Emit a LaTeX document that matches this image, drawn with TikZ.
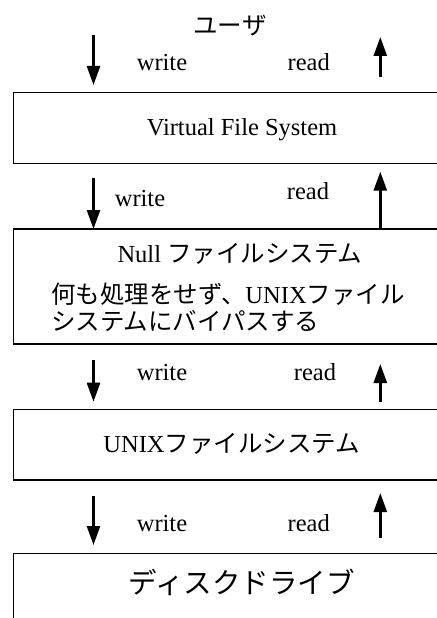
\documentclass[tikz,border=0pt]{standalone}
\usepackage{fontspec}
\setmainfont{Liberation Serif}
\newfontfamily\jp{Noto Sans CJK JP}
\usetikzlibrary{arrows.meta}

\begin{document}
\begin{tikzpicture}[x=1bp,y=-1bp,
  layer/.style={draw, line width=1.3bp, inner sep=0pt, outer sep=0pt, anchor=north west},
  flow/.style={line width=2.6bp, -{Triangle[length=19bp,width=13bp]}},
  lbl/.style={inner sep=0pt, anchor=base, font=\fontsize{24.5bp}{28bp}\selectfont},
]
\useasboundingbox (0,0) rectangle (437,618);
\clip (0,0) rectangle (437,618);

% layers of the file system stack
\node[layer, minimum width=466bp, minimum height=70.5bp] (vfs)  at (13.5,92.7)  {};
\node[layer, minimum width=466bp, minimum height=115bp]  (null) at (13.5,229)   {};
\node[layer, minimum width=466bp, minimum height=70.5bp] (unix) at (13.5,409.5) {};
\node[layer, minimum width=466bp, minimum height=110bp]  (disk) at (13.5,553.5) {};

% layer captions
\node[lbl] (user)   at (230,34.3)  {\jp ユーザ};
\node[lbl] (vfst)   at (242,136)   {Virtual File System};
\node[lbl] (nullt)  at (240,262.5) {Null {\jp ファイルシステム}};
\node[lbl, anchor=base west] (nulld1) at (51,303) {{\jp 何も処理をせず、}UNIX{\jp ファイル}};
\node[lbl, anchor=base west] (nulld2) at (51,330) {\jp システムにバイパスする};
\node[lbl] (unixt)  at (231.7,452) {UNIX{\jp ファイルシステム}};
\node[lbl, font=\fontsize{28.5bp}{32bp}\selectfont] (diskt) at (241.7,593.5) {\jp ディスクドライブ};

% write / read labels between the layers
\node[lbl] (w1) at (162,70.7)  {write};
\node[lbl] (r1) at (308.7,70.7) {read};
\node[lbl] (w2) at (140,206.7) {write};
\node[lbl] (r2) at (308,199.3) {read};
\node[lbl] (w3) at (162,380)   {write};
\node[lbl] (r3) at (315,380)   {read};
\node[lbl] (w4) at (162,531.7) {write};
\node[lbl] (r4) at (308.7,531.7) {read};

% arrow end points
\coordinate (d1a) at (93.5,35);   \coordinate (d1b) at (93.5,85);
\coordinate (u1a) at (380.3,77.3); \coordinate (u1b) at (380.3,37);
\coordinate (d2a) at (93.5,178);  \coordinate (d2b) at (93.5,229);
\coordinate (u2a) at (380.3,229); \coordinate (u2b) at (380.3,171.7);
\coordinate (d3a) at (93.5,360);  \coordinate (d3b) at (93.5,401.7);
\coordinate (u3a) at (380.3,401.7); \coordinate (u3b) at (380.3,364);
\coordinate (d4a) at (93.5,496);  \coordinate (d4b) at (93.5,545);
\coordinate (u4a) at (380.3,538); \coordinate (u4b) at (380.3,493);

% write goes down, read comes up
\draw[flow] (d1a) -- (d1b);
\draw[flow] (u1a) -- (u1b);
\draw[flow] (d2a) -- (d2b);
\draw[flow] (u2a) -- (u2b);
\draw[flow] (d3a) -- (d3b);
\draw[flow] (u3a) -- (u3b);
\draw[flow] (d4a) -- (d4b);
\draw[flow] (u4a) -- (u4b);
\end{tikzpicture}
\end{document}
